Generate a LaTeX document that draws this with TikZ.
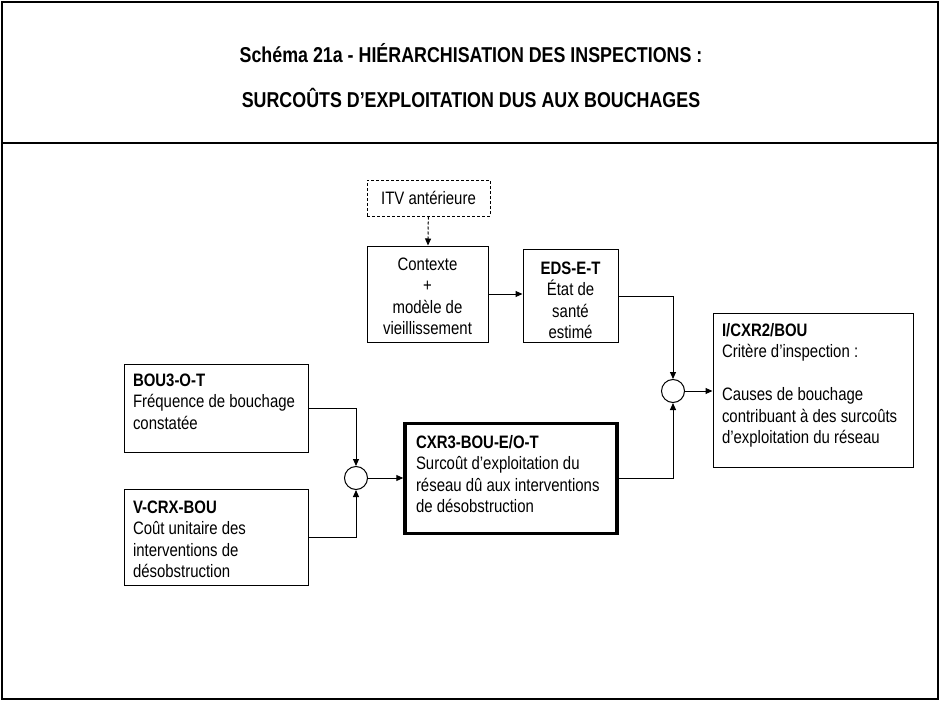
\documentclass[tikz,border=0pt]{standalone}
\usepackage{fontspec}
\setmainfont{Liberation Sans}[FakeStretch=0.83]
\usetikzlibrary{arrows.meta}
\newcommand\bodyfont{\fontsize{18}{21.5}\selectfont\hyphenpenalty=10000\exhyphenpenalty=10000}
\newcommand\headfont{\fontsize{21.5}{24}\selectfont\bfseries}
\newcommand\mytop[1]{\rule{0pt}{#1pt}}
\newcommand\mybot[1]{\rule[-#1pt]{0pt}{#1pt}}
\begin{document}
\begin{tikzpicture}[x=1pt,y=-1pt,
  frame/.style={draw, line width=2pt},
  cbox/.style={draw, line width=1pt, inner sep=0pt, font=\bodyfont, align=center},
  lbox/.style={draw, line width=1pt, inner ysep=0pt, inner xsep=9pt, font=\bodyfont, align=flush left},
  junc/.style={draw, line width=1pt, circle, minimum size=23pt, inner sep=0pt},
  conn/.style={line width=1pt, -{Triangle[length=7pt,width=6pt]}},
  dconn/.style={conn, dash pattern=on 3pt off 2pt},
  title/.style={font=\headfont, anchor=center}]
\useasboundingbox (0,0) rectangle (940,701);
\draw[frame] (2,2) rectangle (938,699);
\draw[frame] (2,143) -- (938,143);
\node[title] (t1) at (471,53) {Schéma 21a - HIÉRARCHISATION DES INSPECTIONS :};
\node[title] (t2) at (471,98) {SURCOÛTS D’EXPLOITATION DUS AUX BOUCHAGES};

\node[cbox, dash pattern=on 3pt off 2pt, minimum width=123pt, minimum height=36pt] (itv) at (428.5,198) {ITV antérieure};
\node[cbox, minimum width=121pt, minimum height=96pt] (ctx) at (427.5,294) {\mytop{20.5}Contexte\\+\\modèle de\\vieillissement\mybot{4}};
\node[cbox, minimum width=95pt, minimum height=92pt] (eds) at (570.5,296) {\mytop{24.5}\textbf{EDS-E-T}\\État de\\santé\\estimé\mybot{4}};
\node[lbox, text width=166pt, minimum height=88pt] (bou3) at (216,408) {\mytop{14}\textbf{BOU3-O-T}\\Fréquence de bouchage\\constatée\mybot{15}};
\node[lbox, text width=166pt, minimum height=96pt] (vcrx) at (216,537) {\mytop{20.5}\textbf{V-CRX-BOU}\\Coût unitaire des\\interventions de\\désobstruction\mybot{4}};
\node[lbox, line width=3.5pt, inner xsep=11pt, text width=190pt, minimum height=110pt] (cxr3) at (511,478.5) {\mytop{14}\textbf{CXR3-BOU-E/O-T}\\Surcoût d’exploitation du\\réseau dû aux interventions\\de désobstruction\mybot{10.5}};
\node[lbox, text width=182pt, minimum height=154pt] (cxr2) at (813,390) {\mytop{14}\textbf{I/CXR2/BOU}\\Critère d’inspection :\\[21.5pt]Causes de bouchage\\contribuant à des surcoûts\\d’exploitation du réseau\mybot{14.5}};
\node[junc] (c1) at (356,478) {};
\node[junc] (c2) at (673,391) {};

\draw[dconn] (itv) -- (ctx);
\draw[conn] (ctx.east) -- (ctx.east -| eds.west);
\draw[conn] (eds.east) -| (c2.north);
\draw[conn] (c2.east) -- (c2.east -| cxr2.west);
\draw[conn] (cxr3.east) -| (c2.south);
\draw[conn] (bou3.east) -| (c1.north);
\draw[conn] (vcrx.east) -| (c1.south);
\draw[conn] (c1.east) -- (c1.east -| cxr3.west);
\end{tikzpicture}
\end{document}
